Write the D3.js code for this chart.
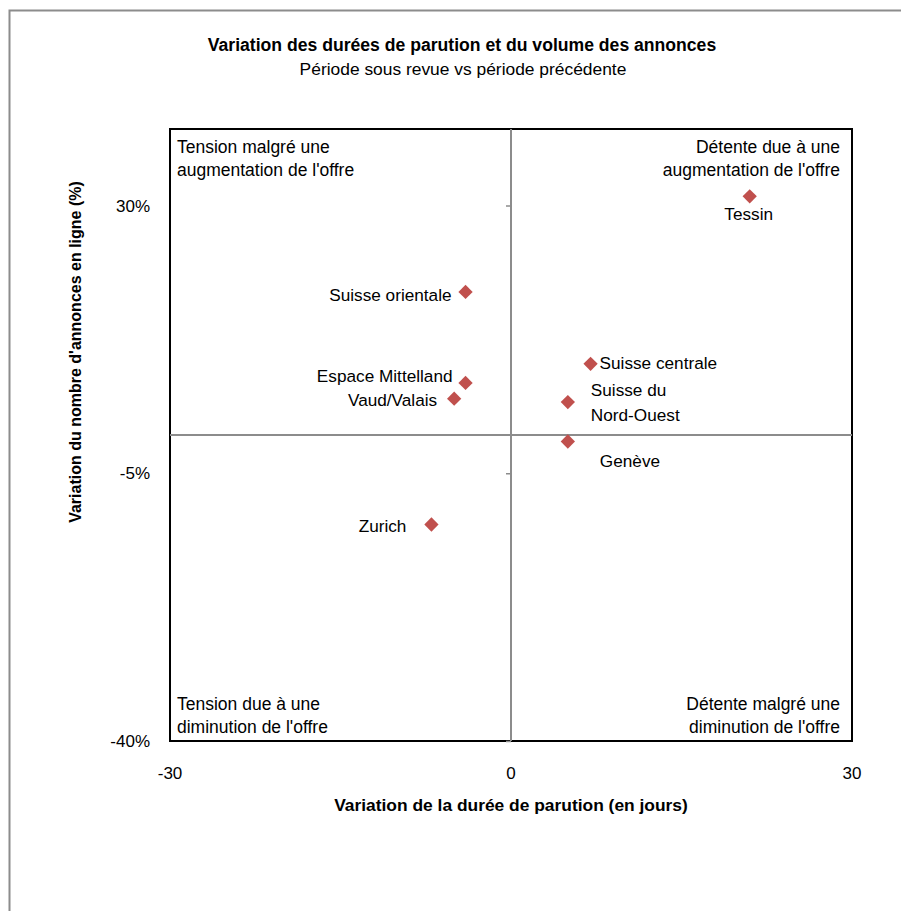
<!DOCTYPE html>
<html>
<head>
<meta charset="utf-8">
<script src="https://cdn.jsdelivr.net/npm/d3@7"></script>
<style>
  body { margin: 0; background: #fff; }
  text { font-family: "Liberation Sans Narrow", "Arial Narrow", "Liberation Sans", Arial, sans-serif; fill: #000; }
</style>
</head>
<body>
<script>
// Chart data
var regions = ["Tessin", "Suisse orientale", "Espace Mittelland", "Vaud/Valais",
  "Suisse centrale", "Suisse du Nord-Ouest", "Genève", "Zurich"];
var dureeJours = [21.0, -4.0, -4.0, -5.0, 7.0, 5.0, 5.0, -7.0];
var volumePct = [31.2, 18.7, 6.8, 4.75, 9.3, 4.3, -0.85, -11.7];
var xTicks = [-30, 0, 30];
var yTicks = [-40, -5, 30];
var quadrants = [
  ["Tension malgré une", "augmentation de l'offre"],
  ["Détente due à une", "augmentation de l'offre"],
  ["Tension due à une", "diminution de l'offre"],
  ["Détente malgré une", "diminution de l'offre"]
];

// label placement (layout only)
var labelLayout = {
  "Tessin": { dx: -1, dy: 24, anchor: "middle", lines: ["Tessin"] },
  "Suisse orientale": { dx: -14, dy: 9, anchor: "end", lines: ["Suisse orientale"] },
  "Espace Mittelland": { dx: -13, dy: -1, anchor: "end", lines: ["Espace Mittelland"] },
  "Vaud/Valais": { dx: -17, dy: 7, anchor: "end", lines: ["Vaud/Valais"] },
  "Suisse centrale": { dx: 9, dy: 5, anchor: "start", lines: ["Suisse centrale"] },
  "Suisse du Nord-Ouest": { dx: 23, dy: -6, anchor: "start", lines: ["Suisse du", "Nord-Ouest"] },
  "Genève": { dx: 32, dy: 25, anchor: "start", lines: ["Genève"] },
  "Zurich": { dx: -25, dy: 7, anchor: "end", lines: ["Zurich"] }
};

var svgWidth = 901;
var svgHeight = 911;
var margin = { top: 129, right: 49, bottom: 170, left: 170 };
var chartWidth = svgWidth - margin.left - margin.right;
var chartHeight = svgHeight - margin.top - margin.bottom;

var svg = d3.select("body")
  .append("svg")
  .attr("width", svgWidth)
  .attr("height", svgHeight);

// outer frame
svg.append("rect")
  .attr("x", 9.5)
  .attr("y", 10.5)
  .attr("width", 1000)
  .attr("height", 1000)
  .attr("fill", "none")
  .attr("stroke", "#8c8c8c")
  .attr("stroke-width", 2);

// titles
svg.append("text")
  .attr("x", 462)
  .attr("y", 51)
  .attr("text-anchor", "middle")
  .attr("font-size", "17.6px")
  .attr("font-weight", "bold")
  .text("Variation des durées de parution et du volume des annonces");

svg.append("text")
  .attr("x", 463)
  .attr("y", 75)
  .attr("text-anchor", "middle")
  .attr("font-size", "17.4px")
  .text("Période sous revue vs période précédente");

var xScale = d3.scaleLinear()
  .domain([-30, 30])
  .range([0, chartWidth]);

var yScale = d3.scaleLinear()
  .domain([-40, 40])
  .range([chartHeight, 0]);

var chartGroup = svg.append("g")
  .attr("transform", `translate(${margin.left}, ${margin.top})`);

// plot area border
chartGroup.append("rect")
  .attr("width", chartWidth)
  .attr("height", chartHeight)
  .attr("fill", "none")
  .attr("stroke", "#000")
  .attr("stroke-width", 2);

// centre axes (grey)
var yAxis = d3.axisLeft(yScale).tickValues(yTicks).tickSize(5).tickFormat("");
chartGroup.append("g")
  .attr("transform", `translate(${xScale(0)}, 0)`)
  .call(yAxis)
  .call(g => g.select(".domain").remove())
  .call(g => g.selectAll("line").attr("stroke", "#8c8c8c").attr("stroke-width", 1.5));

chartGroup.append("line")
  .attr("x1", xScale(0)).attr("x2", xScale(0))
  .attr("y1", 0).attr("y2", chartHeight)
  .attr("stroke", "#8c8c8c")
  .attr("stroke-width", 2);

chartGroup.append("line")
  .attr("x1", 0).attr("x2", chartWidth)
  .attr("y1", yScale(0)).attr("y2", yScale(0))
  .attr("stroke", "#8c8c8c")
  .attr("stroke-width", 2);

// tick labels
chartGroup.selectAll(".ylab")
  .data(yTicks)
  .enter()
  .append("text")
  .attr("x", -20)
  .attr("y", d => yScale(d) + 6)
  .attr("text-anchor", "end")
  .attr("font-size", "17px")
  .text(d => d + "%");

chartGroup.selectAll(".xlab")
  .data(xTicks)
  .enter()
  .append("text")
  .attr("x", d => xScale(d))
  .attr("y", chartHeight + 38)
  .attr("text-anchor", "middle")
  .attr("font-size", "17px")
  .text(d => d);

// axis titles
chartGroup.append("text")
  .attr("x", chartWidth / 2)
  .attr("y", chartHeight + 70)
  .attr("text-anchor", "middle")
  .attr("font-size", "17.4px")
  .attr("font-weight", "bold")
  .text("Variation de la durée de parution (en jours)");

chartGroup.append("text")
  .attr("transform", "rotate(-90)")
  .attr("x", -(352 - margin.top))
  .attr("y", -89)
  .attr("text-anchor", "middle")
  .attr("font-size", "16px")
  .attr("font-weight", "bold")
  .text("Variation du nombre d'annonces en ligne (%)");

// quadrant captions
var qPos = [
  { x: 7, y: 24, anchor: "start" },
  { x: chartWidth - 12, y: 24, anchor: "end" },
  { x: 7, y: chartHeight - 31, anchor: "start" },
  { x: chartWidth - 12, y: chartHeight - 31, anchor: "end" }
];
quadrants.forEach(function(lines, i) {
  var t = chartGroup.append("text")
    .attr("x", qPos[i].x)
    .attr("y", qPos[i].y)
    .attr("text-anchor", qPos[i].anchor)
    .attr("font-size", "17.5px");
  lines.forEach(function(l, j) {
    t.append("tspan")
      .attr("x", qPos[i].x)
      .attr("dy", j === 0 ? 0 : 23)
      .text(l);
  });
});

// points
var points = regions.map((r, i) => ({ name: r, x: dureeJours[i], y: volumePct[i] }));

var elemEnter = chartGroup.selectAll(".pt")
  .data(points)
  .enter()
  .append("g")
  .attr("transform", d => `translate(${xScale(d.x)}, ${yScale(d.y)})`);

elemEnter.append("path")
  .attr("d", d3.symbol().type(d3.symbolDiamond2).size(130))
  .attr("fill", "#c0504d");

elemEnter.append("text")
  .attr("text-anchor", d => labelLayout[d.name].anchor)
  .attr("font-size", "17.2px")
  .each(function(d) {
    var lay = labelLayout[d.name];
    var t = d3.select(this);
    lay.lines.forEach(function(l, j) {
      t.append("tspan")
        .attr("x", lay.dx)
        .attr("y", lay.dy + j * 25)
        .text(l);
    });
  });
</script>
</body>
</html>
